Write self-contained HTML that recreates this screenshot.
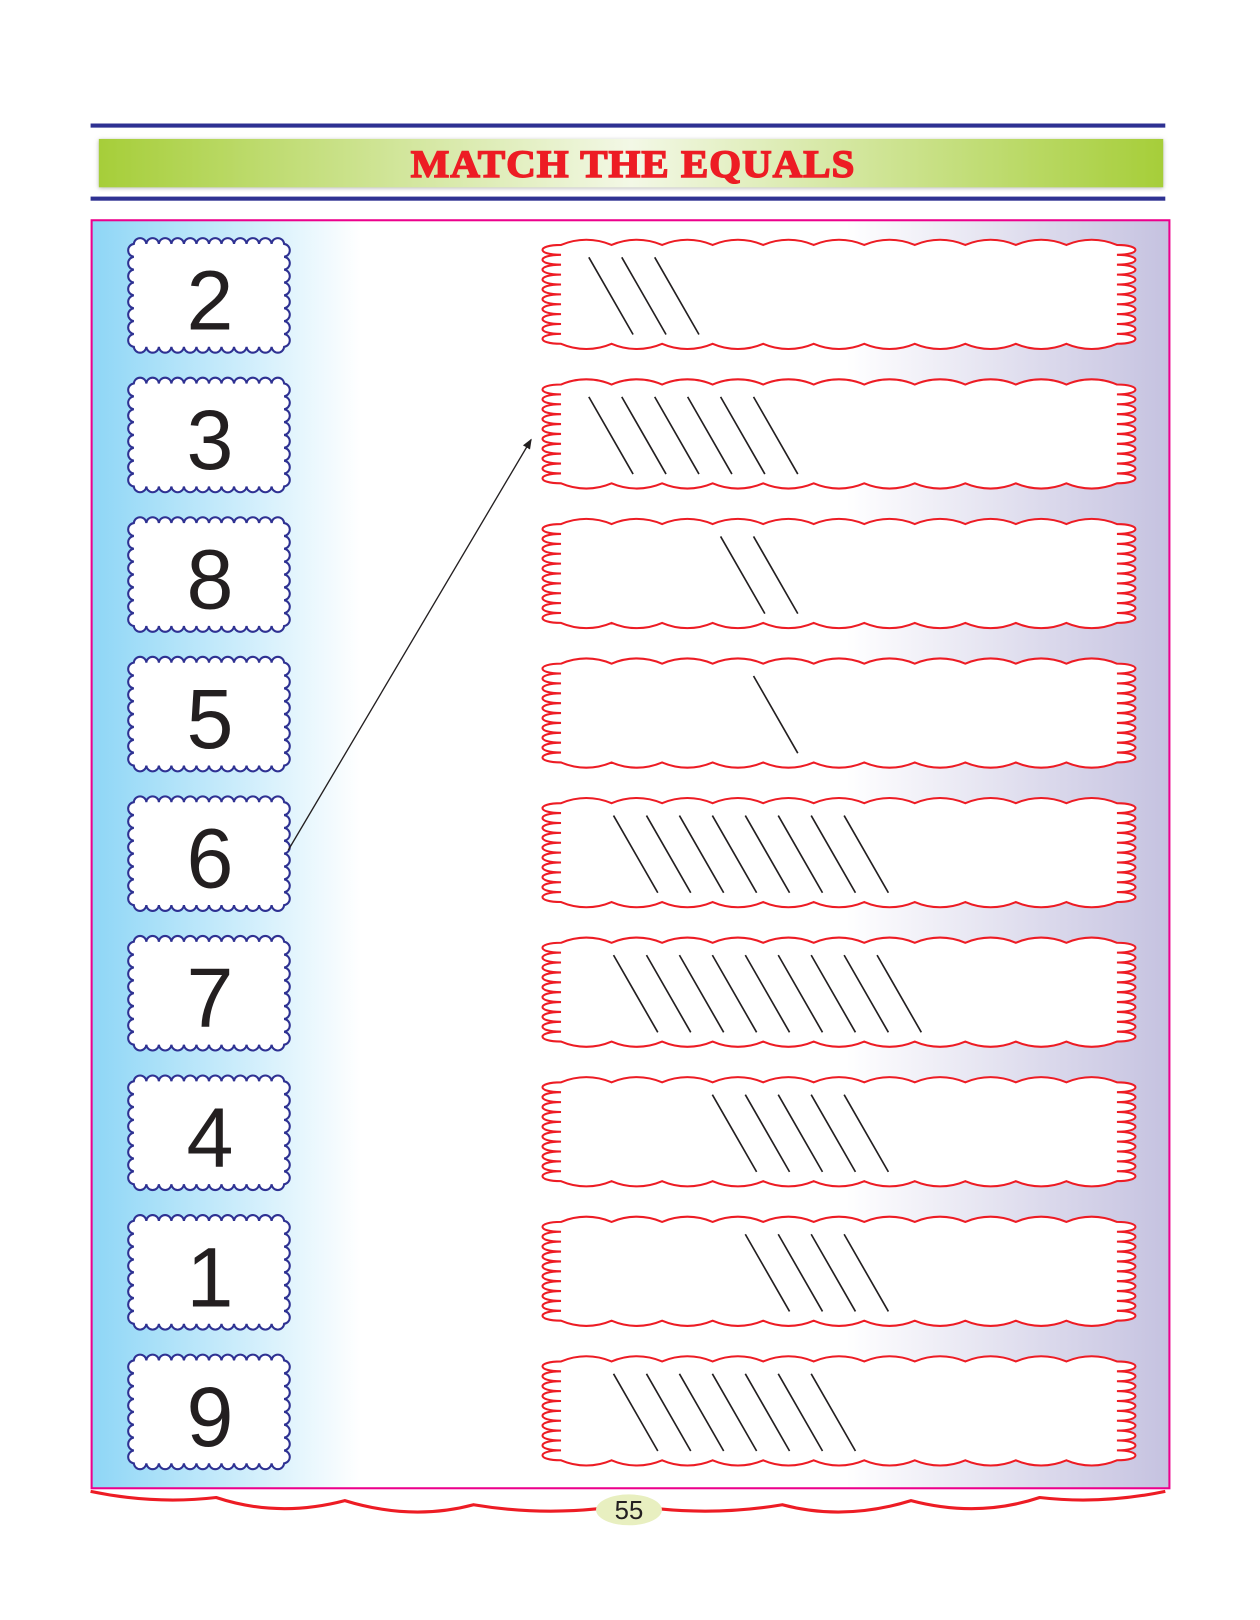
<!DOCTYPE html>
<html><head><meta charset="utf-8"><style>
html,body{margin:0;padding:0;background:#fff;}
svg{display:block;}
</style></head><body>
<svg id="s" width="1260" height="1620" viewBox="0 0 1224 1574" preserveAspectRatio="none" xmlns="http://www.w3.org/2000/svg">
<defs>
<linearGradient id="gb" x1="0" x2="1">
<stop offset="0" stop-color="#a6ce39"/><stop offset="0.5" stop-color="#f3f8e6"/><stop offset="1" stop-color="#a6ce39"/>
</linearGradient>
<linearGradient id="bg" x1="0" x2="1">
<stop offset="0" stop-color="#8ed6f6"/><stop offset="0.25" stop-color="#ffffff"/><stop offset="0.7" stop-color="#ffffff"/><stop offset="1" stop-color="#c5c2e0"/>
</linearGradient>
<marker id="ah" markerWidth="10" markerHeight="10" refX="9" refY="5" orient="auto" markerUnits="userSpaceOnUse">
<path d="M0,1 L10,5 L0,9 Z" fill="#231f20"/>
</marker>
<filter id="sh"><feDropShadow dx="0" dy="1" stdDeviation="2" flood-color="#888" flood-opacity="0.6"/></filter>
</defs>
<rect x="88" y="120" width="1044" height="4" fill="#2e3192"/>
<rect x="96" y="135" width="1034" height="47" fill="url(#gb)" filter="url(#sh)"/>
<text x="615" y="172" text-anchor="middle" font-family="Liberation Serif, serif" font-weight="bold" font-size="38" letter-spacing="1" fill="#ed1c24" stroke="#ed1c24" stroke-width="1.5" textLength="432" lengthAdjust="spacingAndGlyphs">MATCH THE EQUALS</text>
<rect x="88" y="191" width="1044" height="4" fill="#2e3192"/>
<rect x="89" y="214" width="1047" height="1232" fill="url(#bg)" stroke="#ec008c" stroke-width="2"/>
<path d="M88,1449 Q150,1462 210,1455 Q270,1475 335,1458 Q400,1478 460,1462 Q520,1472 580,1466 M640,1466 Q700,1472 760,1462 Q820,1478 885,1458 Q950,1475 1010,1455 Q1070,1462 1132,1449" fill="none" stroke="#ed1c24" stroke-width="3"/>
<ellipse cx="611" cy="1467" rx="32" ry="15" fill="#e8efc0"/>
<text x="611" y="1476" text-anchor="middle" font-family="Liberation Sans, sans-serif" font-size="25" fill="#231f20">55</text>
<g id="g"></g>
<line x1="280" y1="826" x2="516" y2="427" stroke="#231f20" stroke-width="1.3" marker-end="url(#ah)"/>
</svg>
<script>
var g=document.getElementById('g'),h='';
function scal(x,y,w,hh,nx,ny,rx1,ry1,rx2,ry2){
 var d='M'+x+','+y, sx=w/nx, sy=hh/ny,i;
 for(i=1;i<=nx;i++) d+=' A'+rx1+' '+ry1+' 0 0 1 '+(x+sx*i)+','+y;
 for(i=1;i<=ny;i++) d+=' A'+rx2+' '+ry2+' 0 0 1 '+(x+w)+','+(y+sy*i);
 for(i=1;i<=nx;i++) d+=' A'+rx1+' '+ry1+' 0 0 1 '+(x+w-sx*i)+','+(y+hh);
 for(i=1;i<=ny;i++) d+=' A'+rx2+' '+ry2+' 0 0 1 '+x+','+(y+hh-sy*i);
 return d+'Z';
}
function red(x,y,w,hh,nx,ny,b){
 var d='M'+x+','+y, sx=w/nx, sy=hh/ny,i,p;
 for(i=1;i<=nx;i++) d+=' A62 62 0 0 1 '+(x+sx*i)+','+y;
 for(i=0;i<ny;i++){p=y+sy*i; d+=' C'+(x+w+b)+','+p+' '+(x+w+b)+','+(p+sy)+' '+(x+w)+','+(p+sy);}
 for(i=1;i<=nx;i++) d+=' A62 62 0 0 1 '+(x+w-sx*i)+','+(y+hh);
 for(i=0;i<ny;i++){p=y+hh-sy*i; d+=' C'+(x-b)+','+p+' '+(x-b)+','+(p-sy)+' '+x+','+(p-sy);}
 return d+'Z';
}
var nums=['2','3','8','5','6','7','4','1','9'];
var lines=[[572,3],[572,6],[700,2],[732,1],[596,8],[596,9],[692,5],[724,4],[596,7]];
for(var r=0;r<9;r++){
 var t=232+r*135.6;
 h+='<path d="'+scal(130,t+5,146,100,12,8,6.1,6.1,6.3,6.3)+'" fill="#fff" stroke="#2e3192" stroke-width="2"/>';
 h+='<text x="204" y="'+(t+88)+'" text-anchor="middle" font-family="Liberation Sans, sans-serif" font-size="82" fill="#231f20">'+nums[r]+'</text>';
 h+='<path d="'+red(545,t+6,540,96,11,10,24)+'" fill="#fff" stroke="#ed1c24" stroke-width="2"/>';
 for(var k=0;k<lines[r][1];k++){var x=lines[r][0]+k*32;
  h+='<line x1="'+x+'" y1="'+(t+18)+'" x2="'+(x+43)+'" y2="'+(t+93)+'" stroke="#231f20" stroke-width="1.6"/>';}
}
g.innerHTML=h;
</script>
</body></html>
